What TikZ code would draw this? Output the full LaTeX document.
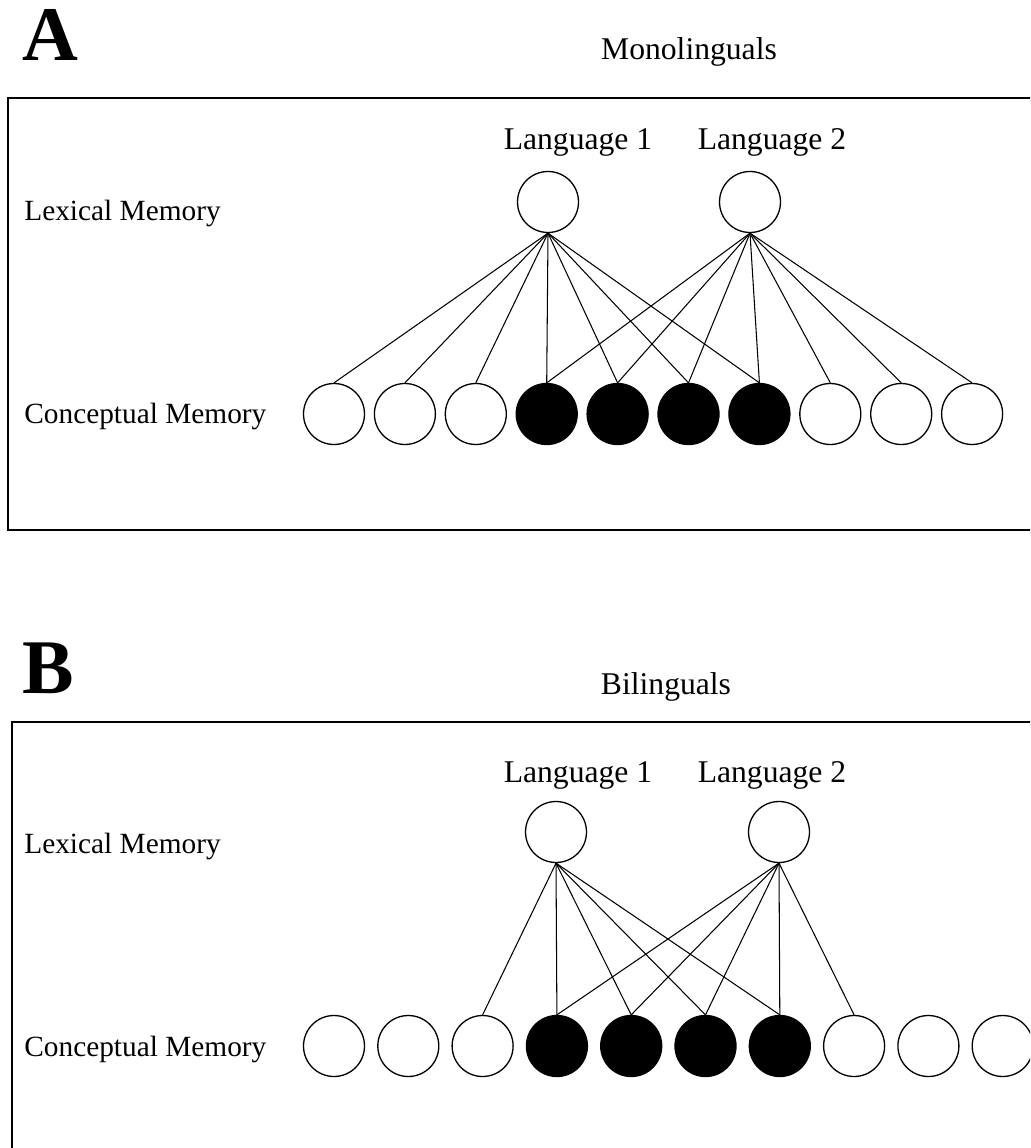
\documentclass[tikz,border=0pt]{standalone}
\usepackage{fontspec}
\setmainfont{Liberation Serif}

\tikzset{
  unit/.style={circle,draw,line width=0.75pt,minimum size=1.22cm,inner sep=0pt},
  word/.style={inner sep=0pt,font=\fontsize{18}{20}\selectfont},
  side/.style={inner sep=0pt,font=\fontsize{16.7}{19}\selectfont},
  panel/.style={inner sep=0pt,font=\fontsize{44}{46}\selectfont\bfseries},
  frame/.style={line width=1.15pt},
  wire/.style={line width=0.6pt}
}

\begin{document}
\begin{tikzpicture}[x=0.02cm,y=-0.02cm]
		\clip (0,0) rectangle (1030,1148);
		% A: monolinguals
		\node[panel,anchor=base] (letA) at (50,61) {A};
		\node[word,anchor=base] (titleA) at (689,60) {Monolinguals};
		\draw[frame] (8,98) rectangle (1080,530);
		\node[word,anchor=base] (textA1) at (578,150) {Language 1};
		\node[word,anchor=base] (textA2) at (772,150) {Language 2};
		\node[side,anchor=base west] (lexA) at (24,221) {Lexical Memory};
		\node[side,anchor=base west] (conA) at (24,423) {Conceptual Memory};
		\node[unit] (la1) at (548,202) {};
		\node[unit] (la2) at (750,202) {};
		\foreach \i in {1,2,3,8,9,10}
			\node[unit] (a\i) at ({263.1+70.9*\i},414) {};
		\foreach \i in {4,...,7}
			\node[unit,fill] (a\i) at ({263.1+70.9*\i},414) {};
		\foreach \i in {1,...,7}
			\draw[wire] (la1.south) -- (a\i.north);
		\foreach \i in {4,...,10}
			\draw[wire] (la2.south) -- (a\i.north);
		% B: bilinguals
		\node[panel,anchor=base] (letB) at (48,693) {B};
		\node[word,anchor=base] (titleB) at (666,694) {Bilinguals};
		\draw[frame] (12,722) rectangle (1080,1200);
		\node[word,anchor=base] (textB1) at (578,782) {Language 1};
		\node[word,anchor=base] (textB2) at (772,782) {Language 2};
		\node[side,anchor=base west] (lexB) at (24,853) {Lexical Memory};
		\node[side,anchor=base west] (conB) at (24,1056) {Conceptual Memory};
		\node[unit] (lb1) at (556,832) {};
		\node[unit] (lb2) at (779,832) {};
		\foreach \i in {1,2,3,8,9,10}
			\node[unit] (b\i) at ({259.7+74.3*\i},1046) {};
		\foreach \i in {4,...,7}
			\node[unit,fill] (b\i) at ({259.7+74.3*\i},1046) {};
		\foreach \i in {3,...,7}
			\draw[wire] (lb1.south) -- (b\i.north);
		\foreach \i in {4,...,8}
			\draw[wire] (lb2.south) -- (b\i.north);
	\end{tikzpicture}
\end{document}
